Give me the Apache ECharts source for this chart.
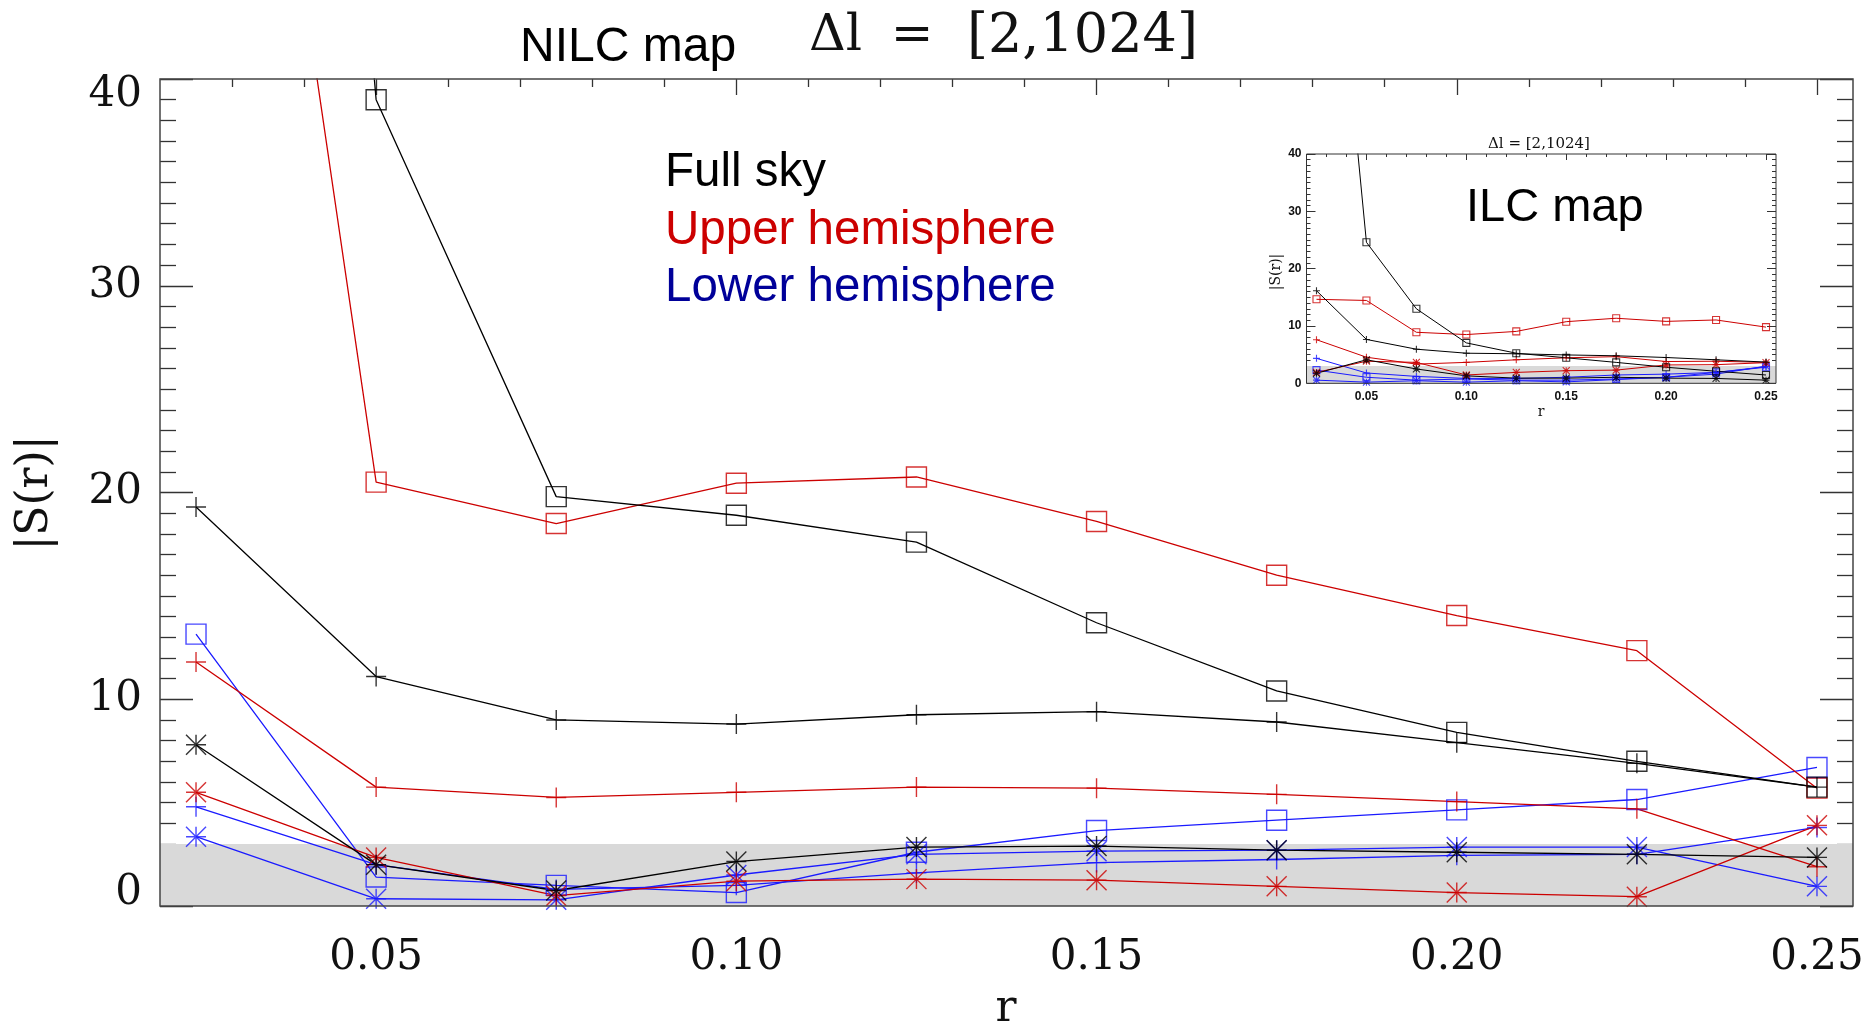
<!DOCTYPE html>
<html><head><meta charset="utf-8">
<script src="https://cdn.jsdelivr.net/npm/echarts@6/dist/echarts.min.js"></script>
<style>html,body{margin:0;padding:0;background:#fff}#c{width:1868px;height:1027px}</style>
</head><body><div id="c"></div>
<script>
// ---------- data ----------
const r = [0.025, 0.05, 0.075, 0.1, 0.125, 0.15, 0.175, 0.2, 0.225, 0.25];
const xTickLabels = [0.05, 0.10, 0.15, 0.20, 0.25];
const yTickLabels = [0, 10, 20, 30, 40];

// NILC map (main panel)
const nilcFullSq    = [140, 39.0, 19.8, 18.9, 17.6, 13.7, 10.4, 8.4, 7.0, 5.75];
const nilcFullPlus  = [19.3, 11.1, 9.0, 8.8, 9.25, 9.4, 8.9, 7.9, 6.9, 5.75];
const nilcFullStar  = [7.8, 2.0, 0.75, 2.15, 2.85, 2.9, 2.7, 2.6, 2.5, 2.35];
const nilcUpperSq   = [80, 20.5, 18.5, 20.45, 20.75, 18.6, 16.0, 14.05, 12.35, 5.7];
const nilcUpperPlus = [11.8, 5.75, 5.25, 5.5, 5.75, 5.7, 5.4, 5.05, 4.7, 1.9];
const nilcUpperStar = [5.5, 2.35, 0.5, 1.2, 1.3, 1.25, 0.95, 0.65, 0.45, 3.9];
const nilcLowerSq   = [13.15, 1.4, 1.0, 0.65, 2.6, 3.65, 4.15, 4.65, 5.15, 6.7];
const nilcLowerPlus = [4.8, 2.0, 0.8, 1.0, 1.6, 2.1, 2.25, 2.45, 2.5, 3.8];
const nilcLowerStar = [3.35, 0.35, 0.3, 1.5, 2.5, 2.65, 2.7, 2.85, 2.85, 0.95];

// ILC map (inset)
const ilcFullSq    = [115, 24.6, 13.0, 7.05, 5.25, 4.45, 3.65, 2.8, 2.1, 1.45];
const ilcFullPlus  = [16.15, 7.65, 5.95, 5.25, 5.15, 4.95, 4.8, 4.5, 4.1, 3.7];
const ilcFullStar  = [1.75, 4.1, 2.5, 1.3, 0.9, 0.9, 1.05, 0.9, 0.85, 0.55];
const ilcUpperSq   = [14.65, 14.45, 8.9, 8.5, 9.05, 10.75, 11.35, 10.8, 11.05, 9.8];
const ilcUpperPlus = [7.6, 4.55, 3.35, 3.65, 4.1, 4.45, 4.65, 3.8, 3.85, 3.65];
const ilcUpperStar = [1.9, 3.85, 3.65, 1.45, 1.9, 2.2, 2.3, 3.2, 3.25, 3.6];
const ilcLowerSq   = [2.3, 1.05, 0.55, 0.75, 0.55, 0.55, 0.75, 1.05, 1.9, 2.8];
const ilcLowerPlus = [4.35, 1.8, 1.2, 0.85, 0.85, 1.05, 1.45, 1.6, 1.9, 2.9];
const ilcLowerStar = [0.55, 0.2, 0.45, 0.2, 0.45, 0.25, 0.65, 1.05, 1.6, 3.0];

const bandTop = 3;

// ---------- styles ----------
const BLACK = '#000000', RED = '#cc0000', BLUE = '#1a1aff';
const SERIF = 'DejaVu Serif', SANS = 'Liberation Sans';
const SQ = 'path://M-1,-1L1,-1L1,1L-1,1Z';
const PLUS = 'path://M0,-1L0,1M-1,0L1,0';
const STAR = 'path://M0,-1L0,1M-1,0L1,0M-1,-1L1,1M-1,1L1,-1';
const TICK = {color: '#333', width: 1.3};
const TICK_S = {color: '#333', width: 1};

// minor tick positions
const xMinor = [];
for (let k = 3; k <= 25; k++) { if (k % 5 !== 0) xMinor.push(k / 100); }
const yMinor = [];
for (let k = 1; k < 40; k++) { if (k % 10 !== 0) yMinor.push(k); }

function xAx(grid, pos, opts) {
  return Object.assign({
    gridIndex: grid, type: 'value', min: 0.02, max: 0.255, position: pos,
    axisLine: {show: false, onZero: false}, splitLine: {show: false},
    axisLabel: {show: false}, axisTick: {show: false}
  }, opts);
}
function yAx(grid, pos, opts) {
  return Object.assign({
    gridIndex: grid, type: 'value', min: 0, max: 40, interval: 10, position: pos,
    axisLine: {show: false, onZero: false}, splitLine: {show: false},
    axisLabel: {show: false}, axisTick: {show: false}
  }, opts);
}

// grids: 0 main, 1 inset, 2 main (minor ticks), 3 inset (minor ticks)
const xAxis = [
  xAx(0, 'bottom', {axisLabel: {show: true, customValues: xTickLabels, formatter: v => v.toFixed(2),
      fontFamily: SERIF, fontSize: 42, lineHeight: 42, color: '#111', margin: 31}}),
  xAx(0, 'top', {axisTick: {show: true, inside: true, length: 16, customValues: xTickLabels, lineStyle: TICK}}),
  xAx(2, 'top', {axisTick: {show: true, inside: true, length: 8, customValues: xMinor, lineStyle: TICK}}),
  xAx(1, 'bottom', {axisLabel: {show: true, customValues: xTickLabels, formatter: v => v.toFixed(2),
      fontFamily: SANS, fontWeight: 'bold', fontSize: 12, lineHeight: 12, color: '#111', margin: 7},
      axisTick: {show: true, inside: true, length: 6, customValues: xTickLabels, lineStyle: TICK_S}}),
  xAx(1, 'top', {axisTick: {show: true, inside: true, length: 6, customValues: xTickLabels, lineStyle: TICK_S}}),
  xAx(3, 'top', {axisTick: {show: true, inside: true, length: 3, customValues: xMinor, lineStyle: TICK_S}})
];

const labRich = {
  n: {fontFamily: SERIF, fontSize: 42, color: '#111'},
  lo: {fontFamily: SERIF, fontSize: 42, color: '#111', padding: [0, 0, 26, 0]},
  hi: {fontFamily: SERIF, fontSize: 42, color: '#111', padding: [32, 0, 0, 0]}
};
const yAxis = [
  yAx(0, 'left', {axisLabel: {show: true, margin: 18, fontFamily: SERIF, fontSize: 42, color: '#111',
      customValues: yTickLabels,
      formatter: v => v === 0 ? '{lo|0}' : (v === 40 ? '{hi|40}' : '{n|' + v + '}'), rich: labRich},
      axisTick: {show: true, inside: true, length: 33, lineStyle: TICK}}),
  yAx(0, 'right', {axisTick: {show: true, inside: true, length: 33, lineStyle: TICK}}),
  yAx(2, 'left', {axisTick: {show: true, inside: true, length: 16, customValues: yMinor, lineStyle: TICK}}),
  yAx(2, 'right', {axisTick: {show: true, inside: true, length: 16, customValues: yMinor, lineStyle: TICK}}),
  yAx(1, 'left', {axisLabel: {show: true, margin: 5, fontFamily: SANS, fontWeight: 'bold', fontSize: 12, color: '#111'},
      axisTick: {show: true, inside: true, length: 9, lineStyle: TICK_S}}),
  yAx(1, 'right', {axisTick: {show: true, inside: true, length: 9, lineStyle: TICK_S}}),
  yAx(3, 'left', {axisTick: {show: true, inside: true, length: 4, customValues: yMinor, lineStyle: TICK_S}}),
  yAx(3, 'right', {axisTick: {show: true, inside: true, length: 4, customValues: yMinor, lineStyle: TICK_S}})
];

const series = [];
function band(xi, yi) {
  series.push({type: 'line', xAxisIndex: xi, yAxisIndex: yi, data: [], silent: true, z: 1,
    markArea: {silent: true, itemStyle: {color: '#d9d9d9'},
      data: [[{xAxis: 0.02, yAxis: 0}, {xAxis: 0.255, yAxis: bandTop}]]}});
}
function addSet(vals, color, sym, inset) {
  const xi = inset ? 3 : 0, yi = inset ? 4 : 0;
  const lw = inset ? 1 : 1.3;
  const pts = r.map((x, i) => [x, vals[i]]);
  series.push({type: 'line', xAxisIndex: xi, yAxisIndex: yi, data: pts, symbol: 'none',
    clip: true, silent: true, z: 3, lineStyle: {color: color, width: lw}});
  series.push({type: 'scatter', xAxisIndex: xi, yAxisIndex: yi, data: pts, symbol: sym,
    symbolSize: inset ? 7 : 20, clip: true, silent: true, z: 4,
    itemStyle: {color: 'rgba(0,0,0,0)', borderColor: color, borderWidth: inset ? 1.1 : 1.4}});
}
band(0, 0);
band(3, 4);
[[nilcLowerSq, BLUE, SQ], [nilcLowerPlus, BLUE, PLUS], [nilcLowerStar, BLUE, STAR],
 [nilcUpperSq, RED, SQ], [nilcUpperPlus, RED, PLUS], [nilcUpperStar, RED, STAR],
 [nilcFullSq, BLACK, SQ], [nilcFullPlus, BLACK, PLUS], [nilcFullStar, BLACK, STAR]]
  .forEach(s => addSet(s[0], s[1], s[2], false));
[[ilcLowerSq, BLUE, SQ], [ilcLowerPlus, BLUE, PLUS], [ilcLowerStar, BLUE, STAR],
 [ilcUpperSq, RED, SQ], [ilcUpperPlus, RED, PLUS], [ilcUpperStar, RED, STAR],
 [ilcFullSq, BLACK, SQ], [ilcFullPlus, BLACK, PLUS], [ilcFullStar, BLACK, STAR]]
  .forEach(s => addSet(s[0], s[1], s[2], true));

function txt(text, x, y, size, family, color, align, rot) {
  return {type: 'text', x: x, y: y, rotation: rot || 0, silent: true,
    style: {text: text, fontSize: size, fontFamily: family, fill: color,
      align: align || 'left', verticalAlign: 'middle'}};
}

const mainRect = {left: 160, top: 79, width: 1693, height: 827};
const insetRect = {left: 1306.5, top: 154, width: 469.5, height: 229.3};

const chart = echarts.init(document.getElementById('c'), null, {renderer: 'canvas'});
chart.setOption({
  animation: false,
  backgroundColor: '#ffffff',
  grid: [
    Object.assign({show: true, borderColor: '#444', borderWidth: 1.5, backgroundColor: 'rgba(0,0,0,0)', z: 10}, mainRect),
    Object.assign({show: true, borderColor: '#333', borderWidth: 1, backgroundColor: 'rgba(0,0,0,0)', z: 10}, insetRect),
    Object.assign({show: false}, mainRect),
    Object.assign({show: false}, insetRect)
  ],
  xAxis: xAxis,
  yAxis: yAxis,
  series: series,
  graphic: [
    txt('NILC map', 520, 48, 48, SANS, '#000'),
    txt('\u0394l', 809, 37, 51, SERIF, '#111'),
    txt('=', 912, 37, 51, SERIF, '#111', 'center'),
    txt('[2,1024]', 1198, 38, 54, SERIF, '#111', 'right'),
    txt('Full sky', 665, 173, 47.5, SANS, '#000'),
    txt('Upper hemisphere', 665, 231, 47.5, SANS, '#cc0000'),
    txt('Lower hemisphere', 665, 288, 47.5, SANS, '#000099'),
    txt('|S(r)|', 36, 493, 44, SERIF, '#111', 'center', Math.PI / 2),
    txt('r', 1006, 1010, 44, SERIF, '#111', 'center'),
    txt('ILC map', 1466, 208, 47, SANS, '#000'),
    txt('\u0394l = [2,1024]', 1539, 144, 15, SERIF, '#111', 'center'),
    txt('|S(r)|', 1276, 272, 14, SERIF, '#111', 'center', Math.PI / 2),
    txt('r', 1541, 412, 14, SERIF, '#111', 'center')
  ]
});
</script></body></html>
